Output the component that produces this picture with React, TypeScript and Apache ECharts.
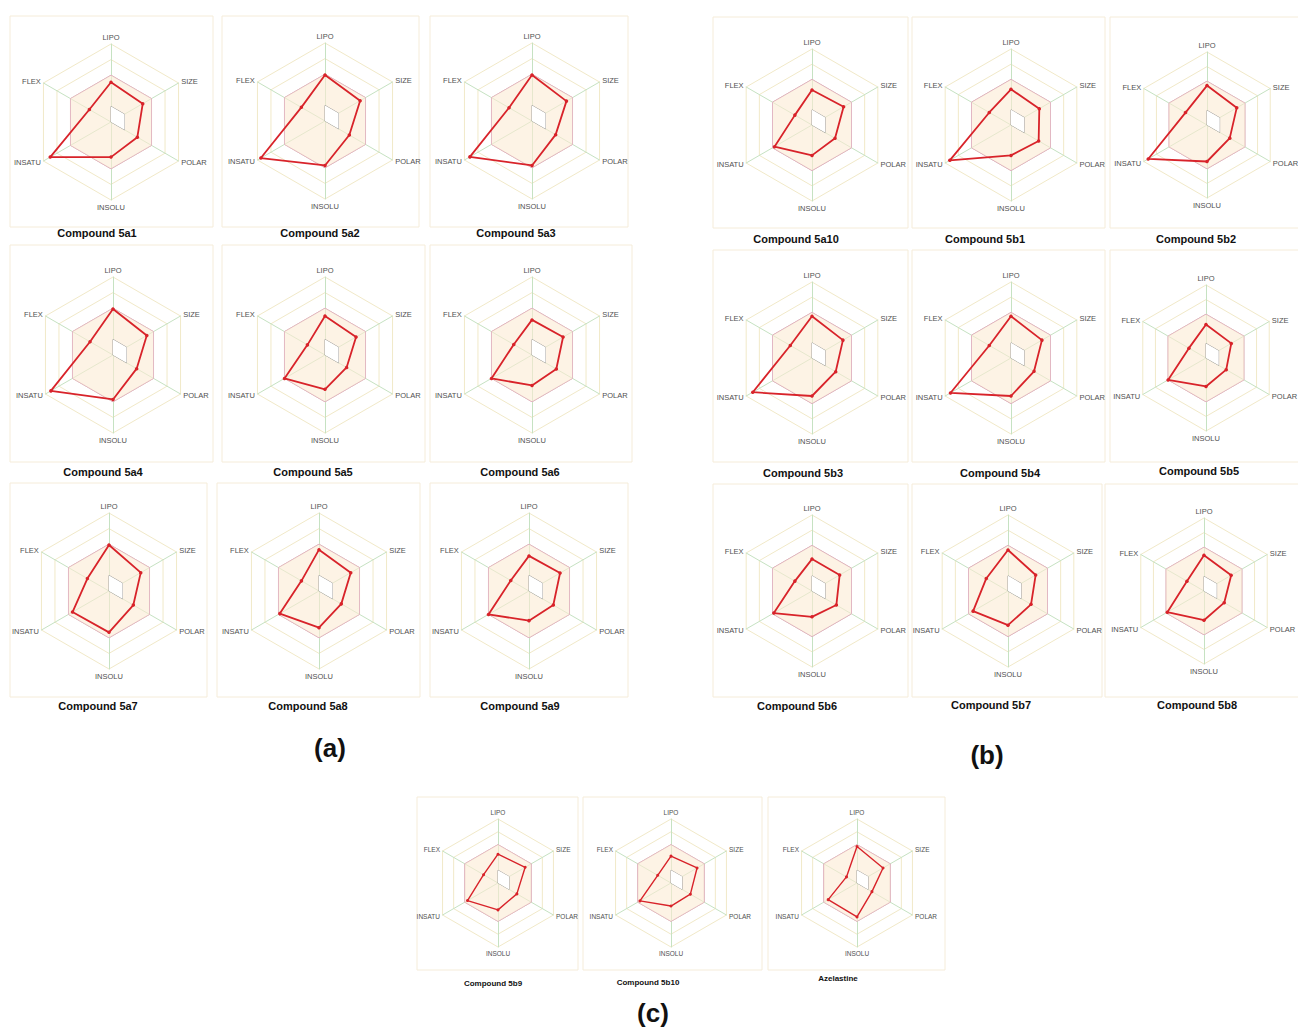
import React, { useEffect, useRef } from "react";
import * as echarts from "echarts";

// ---------- data ----------
const compoundNames = [
  "Compound 5a1", "Compound 5a2", "Compound 5a3",
  "Compound 5a4", "Compound 5a5", "Compound 5a6",
  "Compound 5a7", "Compound 5a8", "Compound 5a9",
  "Compound 5a10", "Compound 5b1", "Compound 5b2",
  "Compound 5b3", "Compound 5b4", "Compound 5b5",
  "Compound 5b6", "Compound 5b7", "Compound 5b8",
  "Compound 5b9", "Compound 5b10", "Azelastine",
];
// normalised radar values (0 = centre, 1 = outer hexagon)
const lipo = [0.51, 0.59, 0.59, 0.59, 0.50, 0.45, 0.59, 0.53, 0.45, 0.46, 0.47, 0.54, 0.55, 0.55, 0.46, 0.42, 0.54, 0.49, 0.45, 0.42, 0.57];
const size = [0.47, 0.52, 0.51, 0.50, 0.46, 0.46, 0.47, 0.47, 0.46, 0.48, 0.43, 0.47, 0.47, 0.47, 0.40, 0.42, 0.42, 0.43, 0.49, 0.47, 0.47];
const polar = [0.39, 0.36, 0.35, 0.35, 0.32, 0.36, 0.36, 0.33, 0.36, 0.35, 0.42, 0.36, 0.36, 0.35, 0.32, 0.37, 0.35, 0.32, 0.34, 0.35, 0.27];
const insolu = [0.45, 0.57, 0.57, 0.57, 0.44, 0.39, 0.53, 0.47, 0.38, 0.40, 0.40, 0.50, 0.50, 0.50, 0.39, 0.34, 0.45, 0.40, 0.42, 0.36, 0.53];
const insatu = [0.90, 0.95, 0.92, 0.92, 0.60, 0.60, 0.54, 0.58, 0.60, 0.57, 0.93, 0.93, 0.90, 0.92, 0.60, 0.58, 0.53, 0.58, 0.55, 0.56, 0.52];
const flex = [0.32, 0.35, 0.34, 0.34, 0.26, 0.27, 0.32, 0.26, 0.27, 0.26, 0.33, 0.34, 0.33, 0.33, 0.27, 0.26, 0.33, 0.27, 0.26, 0.24, 0.19];

const axisNames = ["LIPO", "SIZE", "POLAR", "INSOLU", "INSATU", "FLEX"];
const optimalUpper = [0.6, 0.6, 0.6, 0.6, 0.6, 0.6];
const optimalLower = [0.2, 0.2, 0.2, 0, 0, 0];
const groupLabels = ["(a)", "(b)", "(c)"];

// ---------- layout ----------
type Panel = { cx: number; cy: number; r: number; box: number[]; tx: number; ty: number; small: boolean };
const panels: Panel[] = [
  { cx: 111, cy: 122, r: 78, box: [10, 16, 203, 211], tx: 97, ty: 233, small: false },
  { cx: 325, cy: 121, r: 78, box: [222, 16, 197, 211], tx: 320, ty: 233, small: false },
  { cx: 532, cy: 121, r: 78, box: [430, 16, 198, 211], tx: 516, ty: 233, small: false },
  { cx: 113, cy: 355, r: 78, box: [10, 245, 203, 217], tx: 103, ty: 472, small: false },
  { cx: 325, cy: 355, r: 78, box: [222, 245, 203, 217], tx: 313, ty: 472, small: false },
  { cx: 532, cy: 355, r: 78, box: [430, 245, 202, 217], tx: 520, ty: 472, small: false },
  { cx: 109, cy: 591, r: 78, box: [10, 483, 197, 214], tx: 98, ty: 706, small: false },
  { cx: 319, cy: 591, r: 78, box: [217, 483, 203, 214], tx: 308, ty: 706, small: false },
  { cx: 529, cy: 591, r: 78, box: [430, 483, 198, 214], tx: 520, ty: 706, small: false },
  { cx: 812, cy: 125, r: 76, box: [713, 17, 195, 211], tx: 796, ty: 239, small: false },
  { cx: 1011, cy: 125, r: 76, box: [912, 17, 193, 211], tx: 985, ty: 239, small: false },
  { cx: 1207, cy: 125, r: 73, box: [1110, 17, 190, 211], tx: 1196, ty: 239, small: false },
  { cx: 812, cy: 358, r: 76, box: [713, 250, 195, 212], tx: 803, ty: 473, small: false },
  { cx: 1011, cy: 358, r: 76, box: [912, 250, 193, 212], tx: 1000, ty: 473, small: false },
  { cx: 1206, cy: 358, r: 73, box: [1110, 250, 190, 212], tx: 1199, ty: 471, small: false },
  { cx: 812, cy: 591, r: 76, box: [713, 484, 195, 213], tx: 797, ty: 706, small: false },
  { cx: 1008, cy: 591, r: 76, box: [912, 484, 190, 213], tx: 991, ty: 705, small: false },
  { cx: 1204, cy: 591, r: 73, box: [1105, 484, 195, 213], tx: 1197, ty: 705, small: false },
  { cx: 498, cy: 883, r: 64, box: [417, 797, 161, 173], tx: 493, ty: 983, small: true },
  { cx: 671, cy: 883, r: 64, box: [583, 797, 179, 173], tx: 648, ty: 982, small: true },
  { cx: 857, cy: 883, r: 64, box: [768, 797, 177, 173], tx: 838, ty: 978, small: true },
];
const groupLabelPos = [[330, 748], [987, 755], [653, 1013]];

// display order: ECharts places indicators counter-clockwise from the top
const displayOrder = [0, 5, 4, 3, 2, 1]; // LIPO, FLEX, INSATU, INSOLU, POLAR, SIZE
const reorder = (v: number[]) => displayOrder.map((k) => v[k]);

const RED = "#d8232a";
const NAME_COLOR = "#505050";
const GRID = "#f1e9c8";
const CLEAR = "rgba(255,255,255,0)";

export default function App() {
  const ref = useRef<HTMLDivElement>(null);
  useEffect(() => {
    if (!ref.current) return;
    const chart = echarts.init(ref.current, undefined, { renderer: "svg" });

    const radar = panels.map((p) => ({
      center: [p.cx, p.cy],
      radius: p.r,
      startAngle: 90,
      splitNumber: 5,
      shape: "polygon",
      nameGap: 3,
      indicator: reorder(axisNames).map((n) => ({ name: n, min: 0, max: 1, color: NAME_COLOR })),
      axisName: { color: NAME_COLOR, fontSize: p.small ? 6.5 : 7.5, fontFamily: "Arial" },
      splitLine: { lineStyle: { color: [CLEAR, CLEAR, CLEAR, GRID, GRID, GRID], width: 1 } },
      splitArea: { show: false },
      axisLine: { lineStyle: { color: "#c6e2c2", width: 1 } },
      axisTick: { show: false },
      axisLabel: { show: false },
    }));

    const series = panels.map((p, i) => {
      const vals = [lipo[i], size[i], polar[i], insolu[i], insatu[i], flex[i]];
      return {
        type: "radar",
        radarIndex: i,
        silent: true,
        data: [
          {
            value: reorder(optimalUpper),
            symbol: "none",
            lineStyle: { color: "#d8a2bd", width: 1 },
            areaStyle: { color: "#fcebd3", opacity: 0.6 },
          },
          {
            value: reorder(optimalLower),
            symbol: "none",
            lineStyle: { color: "#8c8c8c", width: 0.8 },
            areaStyle: { color: "#ffffff", opacity: 1 },
          },
          {
            name: compoundNames[i],
            value: reorder(vals),
            symbol: "circle",
            symbolSize: p.small ? 3 : 3.5,
            itemStyle: { color: RED },
            lineStyle: { color: RED, width: p.small ? 1.4 : 1.8 },
          },
        ],
      };
    });

    const graphic: any[] = [];
    panels.forEach((p, i) => {
      graphic.push({
        type: "rect",
        silent: true,
        z: -10,
        shape: { x: p.box[0], y: p.box[1], width: p.box[2], height: p.box[3] },
        style: { fill: "none", stroke: "#f5ecd9", lineWidth: 1 },
      });
      graphic.push({
        type: "text",
        silent: true,
        x: p.tx,
        y: p.ty,
        style: {
          text: compoundNames[i],
          fill: "#111",
          font: p.small ? "bold 8px Arial" : "bold 11px Arial",
          textAlign: "center",
          textVerticalAlign: "middle",
        },
      });
    });
    groupLabels.forEach((g, i) => {
      graphic.push({
        type: "text",
        silent: true,
        x: groupLabelPos[i][0],
        y: groupLabelPos[i][1],
        style: {
          text: g,
          fill: "#111",
          font: "bold 26px Arial",
          textAlign: "center",
          textVerticalAlign: "middle",
        },
      });
    });

    chart.setOption({
      animation: false,
      backgroundColor: "#ffffff",
      radar,
      series,
      graphic,
    });
    return () => chart.dispose();
  }, []);

  return (
    <div
      ref={ref}
      style={{ position: "absolute", left: 0, top: 0, width: 1298, height: 1028 }}
    />
  );
}
